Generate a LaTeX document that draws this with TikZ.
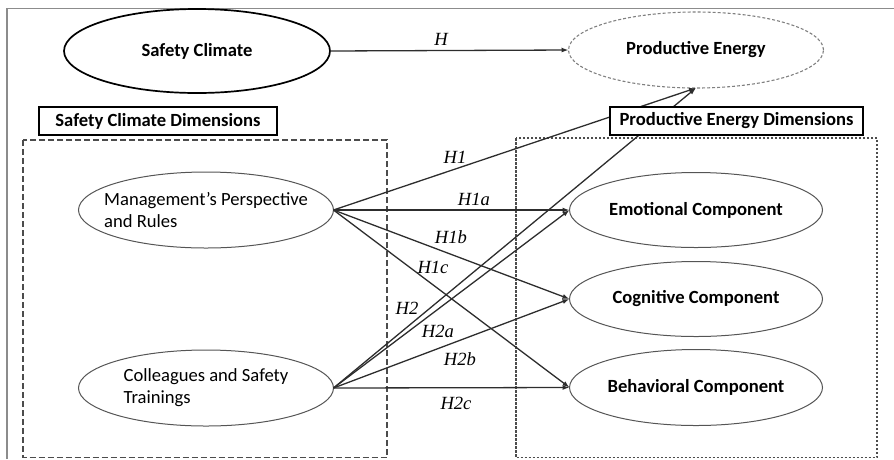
\documentclass[tikz,border=0pt]{standalone}
\usepackage{fontspec}
\setmainfont{Carlito}
\newfontfamily\hypfont{Liberation Serif}
\usepackage{tikz}
\usetikzlibrary{shapes.geometric, arrows.meta, positioning}
\definecolor{linegray}{RGB}{45, 45, 45}
\definecolor{rimgray}{RGB}{85, 85, 85}
\definecolor{framegray}{RGB}{140, 140, 140}

\begin{document}
\begin{tikzpicture}[x=1pt, y=-1pt,
    construct/.style={ellipse, draw=rimgray, line width=1pt, inner xsep=-12pt, inner ysep=0pt, outer sep=0pt,
        minimum width=255pt, minimum height=76pt, font=\fontsize{18.6}{22}\selectfont\bfseries},
    dimension/.style={construct, inner xsep=-28pt, font=\fontsize{18.6}{22}\selectfont, align=left},
    dimbox/.style={draw=black, line width=1.3pt, fill=white, inner sep=0pt,
        minimum height=28pt, font=\fontsize{18.6}{22}\selectfont\bfseries},
    hyp/.style={draw=linegray, line width=1.3pt, -{Latex[length=7pt, width=5pt]}},
    hlabel/.style={font=\fontsize{18.6}{21}\selectfont\hypfont\itshape}
]
    \useasboundingbox (0, 0) rectangle (894, 459);

    % Outer frame (cut at the right and bottom)
    \draw[framegray, line width=1.8pt] (7, 459) -- (7, 8.5) -- (894, 8.5);

    % Dashed groups
    \draw[gray!60!black, line width=1.2pt, dash pattern=on 6pt off 3pt] (23, 140) rectangle (387, 457.5);
    \draw[gray!60!black, line width=1.3pt, dash pattern=on 2.5pt off 1.5pt] (516, 138) rectangle (877, 457.5);

    % Main constructs
    \node[construct, draw=black, line width=1.7pt, minimum width=266pt, minimum height=84pt] (sc) at (197, 51) {Safety Climate};
    \node[construct, draw=gray, line width=1.1pt, dash pattern=on 3pt off 2pt, minimum height=76pt] (pe) at (696, 50) {Productive Energy};

    % Safety climate dimensions
    \node[dimension] (mpr) at (206, 210) {Management’s Perspective\\and Rules};
    \node[dimension] (cst) at (206, 388) {Colleagues and Safety\\Trainings};

    % Productive energy dimensions
    \node[construct, minimum width=253pt, minimum height=75pt] (emo) at (696, 210) {Emotional Component};
    \node[construct, minimum width=253pt, minimum height=75pt, below=14pt of emo] (cog) {Cognitive Component};
    \node[construct, minimum width=253pt, minimum height=76pt, below=13pt of cog] (beh) {Behavioral Component};

    % Hypotheses
    \draw[hyp] (sc.east) -- (pe.west);
    \foreach \src in {mpr, cst} {
        \draw[hyp] (\src.east) -- (pe.south);
        \draw[hyp] (\src.east) -- (emo.west);
        \draw[hyp] (\src.east) -- (cog.west);
        \draw[hyp] (\src.east) -- (beh.west);
    }

    % Hypothesis labels
    \node[hlabel] (lh) at (441, 39) {H};
    \node[hlabel] (lh1) at (455, 157) {H1};
    \node[hlabel] (lh1a) at (474, 199) {H1a};
    \node[hlabel] (lh1b) at (451, 237) {H1b};
    \node[hlabel] (lh1c) at (433, 267) {H1c};
    \node[hlabel] (lh2) at (407, 308) {H2};
    \node[hlabel] (lh2a) at (438, 331) {H2a};
    \node[hlabel] (lh2b) at (460, 359) {H2b};
    \node[hlabel] (lh2c) at (456, 403) {H2c};

    % Group titles (drawn over the lines)
    \node[dimbox, minimum width=238pt] (scd) at (158, 121) {Safety Climate Dimensions};
    \node[dimbox, minimum width=253pt] (ped) at (736.5, 121) {Productive Energy Dimensions};
\end{tikzpicture}
\end{document}
